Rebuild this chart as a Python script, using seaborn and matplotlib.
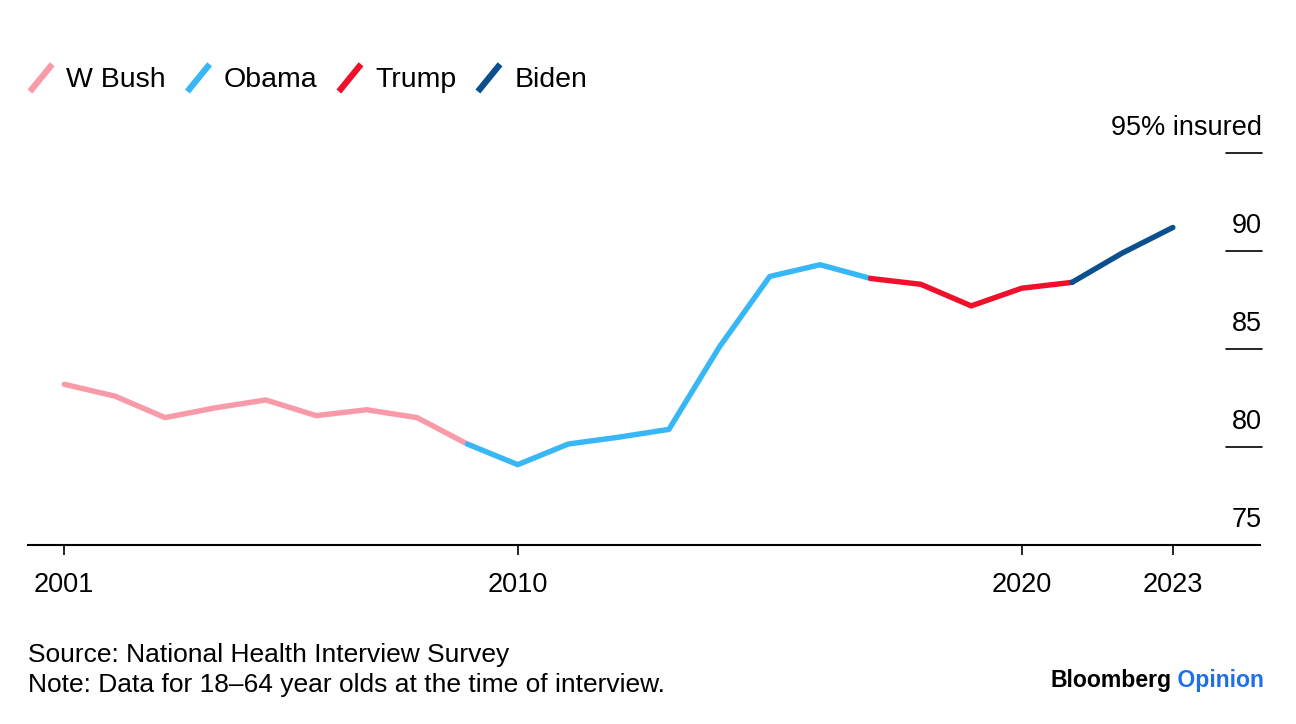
import matplotlib
matplotlib.use("Agg")
import matplotlib.pyplot as plt
import seaborn as sns
import pandas as pd
from matplotlib.lines import Line2D
from matplotlib.legend_handler import HandlerBase

# ---- data ----
years = list(range(2001, 2024))
insured = [83.2, 82.6, 81.5, 82.0, 82.4, 81.6, 81.9, 81.5, 80.15, 79.1,
           80.15, 80.5, 80.9, 85.1, 88.7, 89.3, 88.6, 88.3, 87.2, 88.1,
           88.4, 89.9, 91.2]
presidents = ["W Bush", "Obama", "Trump", "Biden"]
term_start = [2001, 2009, 2017, 2021]
term_end = [2009, 2017, 2021, 2023]
colors = ["#F99AA8", "#38B7F6", "#F0102C", "#0C4F8E"]
y_values = [75, 80, 85, 90, 95]
y_labels = ["75", "80", "85", "90", "95% insured"]
x_ticks = [2001, 2010, 2020, 2023]
x_labels = ["2001", "2010", "2020", "2023"]
source_text = "Source: National Health Interview Survey"
note_text = "Note: Data for 18\u201364 year olds at the time of interview."

rows = []
for p, a, b in zip(presidents, term_start, term_end):
    for yr, v in zip(years, insured):
        if a <= yr <= b:
            rows.append({"year": yr, "value": v, "president": p})
df = pd.DataFrame(rows)

sns.set_theme(style="white")
plt.rcParams["font.family"] = ["Liberation Sans", "DejaVu Sans"]
plt.rcParams["text.color"] = "black"

W, H = 1296, 724
fig = plt.figure(figsize=(W / 100, H / 100), dpi=100)
fig.patch.set_facecolor("white")
ax = fig.add_axes([28 / W, 1 - 545 / H, 1232 / W, (545 - 133.4) / H])

sns.lineplot(data=df, x="year", y="value", hue="president",
             hue_order=presidents, palette=colors, lw=3.9, ax=ax,
             legend=False, sort=False, estimator=None)

ax.set_xlim(2000.28, 2024.73)
ax.set_ylim(75, 96)
for s in ["top", "left", "right"]:
    ax.spines[s].set_visible(False)
ax.spines["bottom"].set_color("black")
ax.spines["bottom"].set_linewidth(1.5)
ax.set_xticks(x_ticks)
ax.set_xticklabels(x_labels)
ax.tick_params(axis="x", bottom=True, length=7.5, width=1.2, pad=12,
               labelsize=19.5, colors="black", direction="out")
ax.set_yticks([])
ax.set_xlabel("")
ax.set_ylabel("")

trans = ax.get_yaxis_transform()
for v, lab in zip(y_values, y_labels):
    if v > 75:
        ax.plot([0.972, 1.0016], [v, v], transform=trans, color="black",
                lw=1.2, clip_on=False)
    ax.annotate(lab, xy=(1.0016, v), xycoords=trans, xytext=(0, 13),
                textcoords="offset points", ha="right", va="baseline",
                fontsize=19.5, color="black", annotation_clip=False)


class DiagHandler(HandlerBase):
    def create_artists(self, legend, orig_handle, xdescent, ydescent,
                       width, height, fontsize, trans):
        x0, y0 = -xdescent, -ydescent
        ln = Line2D([x0, x0 + width], [y0 - height * 0.15, y0 + height * 1.05],
                    color=orig_handle.get_color(), lw=orig_handle.get_linewidth(),
                    solid_capstyle="butt", transform=trans)
        return [ln]


handles = [Line2D([], [], color=c, lw=4.5) for c in colors]
fig.legend(handles, presidents, handler_map={Line2D: DiagHandler()},
           loc="center left", bbox_to_anchor=(30 / W, 1 - 79 / H), ncol=4,
           frameon=False, fontsize=20.5, handlelength=0.78, handleheight=0.85,
           handletextpad=0.5, columnspacing=0.75, borderaxespad=0, borderpad=0,
           labelcolor="black")

fig.text(28 / W, 1 - 655 / H, source_text, va="center", ha="left",
         fontsize=19, color="black")
fig.text(28 / W, 1 - 685 / H, note_text, va="center", ha="left",
         fontsize=19, color="black")

t = fig.text(1050 / W, 1 - 680 / H, "Bloomberg", va="center", ha="left",
             fontsize=16.6, fontweight="bold", color="black")
ax.annotate(" Opinion", xy=(1, 0), xycoords=t, va="bottom", ha="left",
            fontsize=16.6, fontweight="bold", color="#1F6FEB",
            annotation_clip=False)

fig.savefig("out.png", dpi=100, facecolor="white")
